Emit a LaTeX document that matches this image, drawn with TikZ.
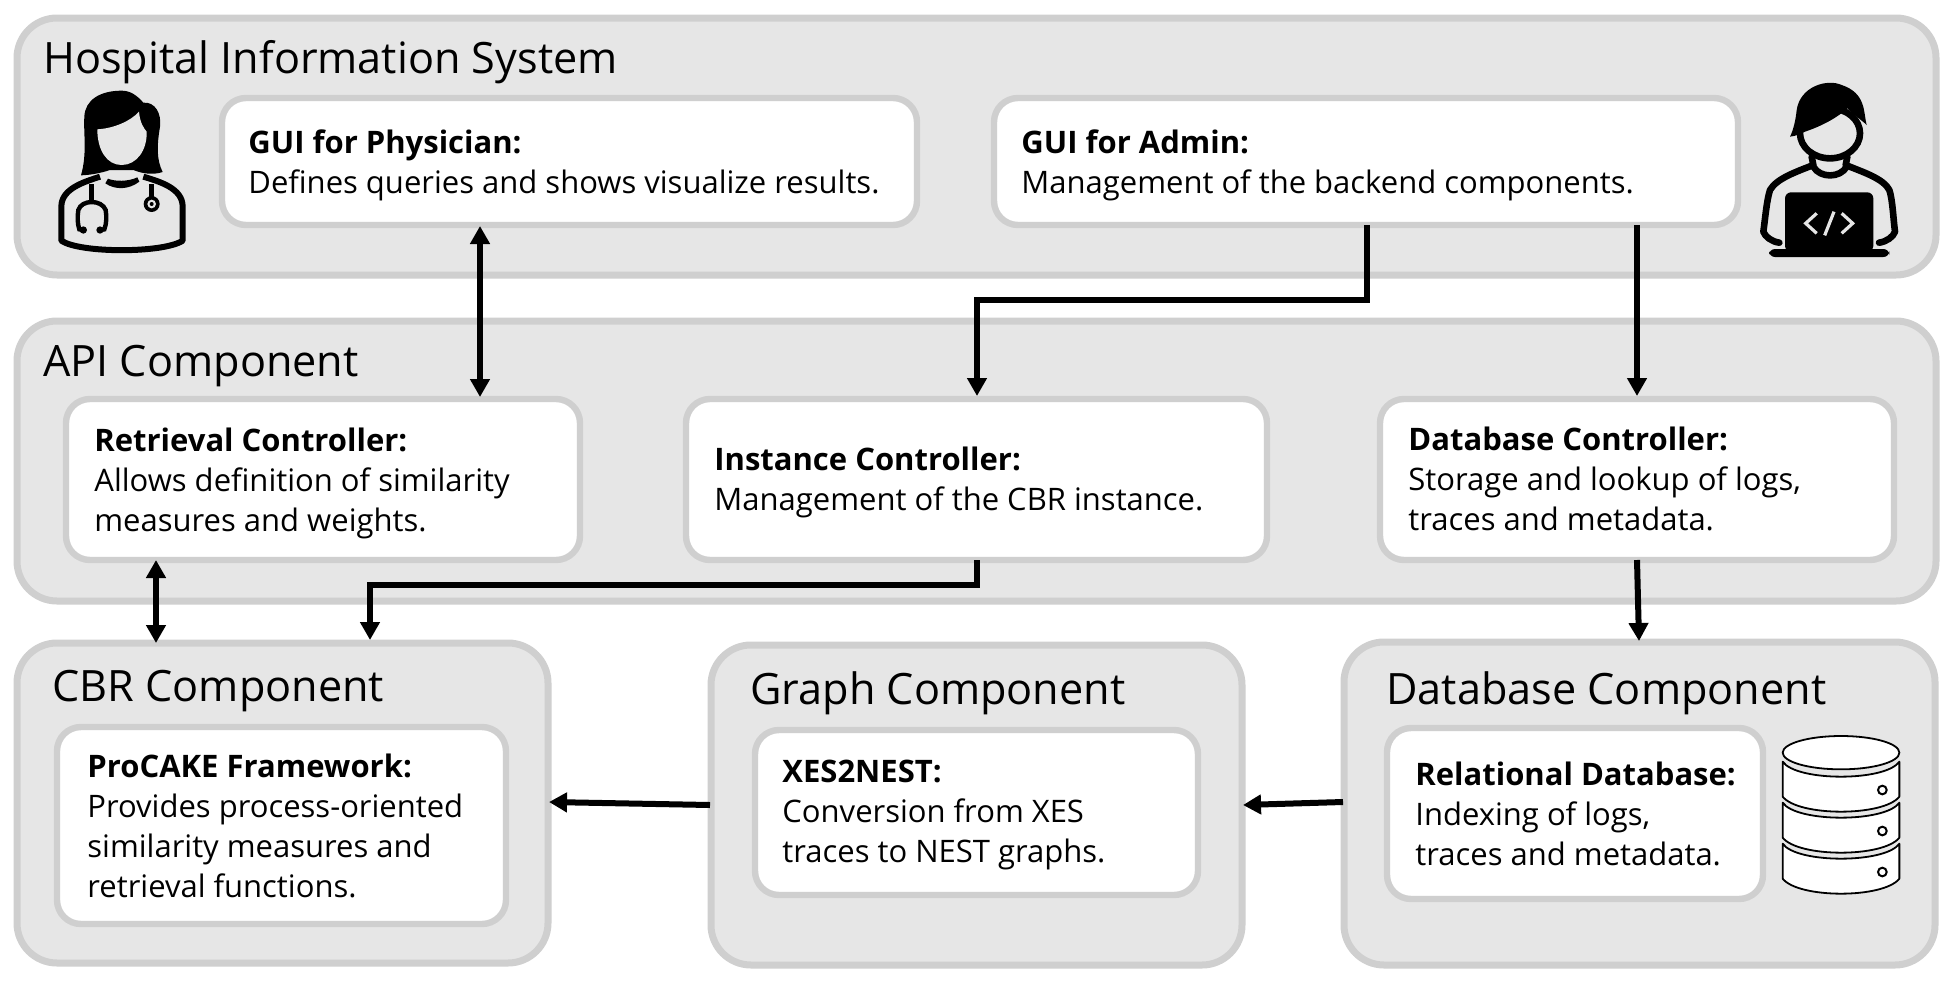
\documentclass[tikz,border=0pt]{standalone}
\usepackage{fontspec}
\setmainfont{Open Sans}
\newfontfamily\headfont{Open Sans}
\usetikzlibrary{arrows.meta,calc}
\definecolor{panelfill}{HTML}{E6E6E6}
\definecolor{panelline}{HTML}{CFCFCF}
\tikzset{
  panel/.style={draw=panelline,fill=panelfill,line width=3.5pt,rounded corners=20pt,inner sep=0pt,outer sep=0pt},
  card/.style={draw=panelline,fill=white,line width=3.2pt,rounded corners=12pt,inner sep=0pt,outer sep=0pt},
  heading/.style={anchor=base west,inner sep=0pt,font=\headfont\fontsize{21.6}{26}\selectfont},
  body/.style={anchor=base west,inner sep=0pt,align=left,font=\fontsize{15.5}{20}\selectfont},
  conn/.style={line width=3pt,-{Triangle[length=9pt,width=9.5pt]},miter limit=10},
  both/.style={line width=3pt,{Triangle[length=9pt,width=9.5pt]}-{Triangle[length=9pt,width=9.5pt]}},
}
\newcommand{\pbox}[6]{% style,name,x1,y1,x2,y2
  \node[#1,minimum width={(#5-#3)*0.5pt},minimum height={(#6-#4)*0.5pt}] (#2) at ({(#3+#5)/2},{(#4+#6)/2}) {};}
\begin{document}
\begin{tikzpicture}[x=0.5pt,y=-0.5pt]
\useasboundingbox (0,0) rectangle (1953,985);
\fill[white] (0,0) rectangle (1953,985);
% panels
\pbox{panel}{his}{17}{18}{1936}{275}
\pbox{panel}{api}{17}{321}{1936}{601}
\pbox{panel}{cbr}{17}{643}{548}{963}
\pbox{panel}{graph}{711}{645}{1242}{965}
\pbox{panel}{dbc}{1344}{642}{1935}{965}
% cards
\pbox{card}{gphys}{222}{98}{917}{225}
\pbox{card}{gadmin}{994}{98}{1738}{225}
\pbox{card}{retr}{66}{399}{580}{560}
\pbox{card}{inst}{686}{399}{1267}{560}
\pbox{card}{dbctl}{1380}{399}{1894}{560}
\pbox{card}{proc}{57}{727}{506}{924}
\pbox{card}{xes}{755}{730}{1198}{895}
\pbox{card}{rel}{1387}{728}{1763}{899}
% headings
\node[heading] (t1) at (43,73) {Hospital Information System};
\node[heading] (t2) at (43,376) {API Component};
\node[heading] (t3) at (52,701) {CBR Component};
\node[heading] (t4) at (750,704) {Graph Component};
\node[heading] (t5) at (1386,704) {Database Component};
% card text (anchored at the baseline of the last line)
\node[body] (b1) at (248,193) {\textbf{GUI for Physician:}\\Defines queries and shows visualize results.};
\node[body] (b2) at (1021,193) {\textbf{GUI for Admin:}\\Management of the backend components.};
\node[body] (b3) at (94,531) {\textbf{Retrieval Controller:}\\Allows definition of similarity\\measures and weights.};
\node[body] (b4) at (714,510) {\textbf{Instance Controller:}\\Management of the CBR instance.};
\node[body] (b5) at (1408,530) {\textbf{Database Controller:}\\Storage and lookup of logs,\\traces and metadata.};
\node[body] (b6) at (87,897) {\textbf{ProCAKE Framework:}\\Provides process-oriented\\similarity measures and\\retrieval functions.};
\node[body] (b7) at (782,862) {\textbf{XES2NEST:}\\Conversion from XES\\traces to NEST graphs.};
\node[body] (b8) at (1415,865) {\textbf{Relational Database:}\\Indexing of logs,\\traces and metadata.};
% connectors
\coordinate (xa) at (480,0);
\coordinate (xb) at (1367,0);
\coordinate (xc) at (977,0);
\coordinate (xd) at (1637,0);
\coordinate (xe) at (156,0);
\coordinate (xf) at (370,0);
\coordinate (ya) at (0,300);
\coordinate (yb) at (0,585);
\coordinate (dba) at (1639,641);
\coordinate (cbrin) at (549,802);
\coordinate (gout) at (710,805);
\coordinate (gin) at (1243,805);
\coordinate (dout) at (1343,802);
\draw[both] (xa |- gphys.south) ++(0,1) -- ($(xa |- retr.north)+(0,-2)$);
\draw[conn] (xb |- gadmin.south) -- (xb |- ya) -- (xc |- ya) -- ($(xc |- inst.north)+(0,-3)$);
\draw[conn] (xd |- gadmin.south) -- ($(xd |- dbctl.north)+(0,-3)$);
\draw[both] (xe |- retr.south) -- (xe |- cbr.north);
\draw[conn] (xc |- inst.south) -- (xc |- yb) -- (xf |- yb) -- ($(xf |- cbr.north)+(0,-3)$);
\draw[conn] (xd |- dbctl.south) -- (dba);
\draw[conn] (gout) -- (cbrin);
\draw[conn] (dout) -- (gin);
% doctor icon
\begin{scope}[x=0.16667pt,y=-0.16667pt]
\fill[black] (365,272) .. controls (300,272) and (255,300) .. (253,350) .. controls (250,400) and (262,460) .. (243,526) .. controls (270,525) and (300,520) .. (330,510) -- (400,510) .. controls (430,522) and (460,525) .. (488,516) .. controls (470,480) and (470,440) .. (480,380) .. controls (485,340) and (465,305) .. (430,308) .. controls (410,285) and (390,272) .. (365,272) -- cycle;
\fill[panelfill] (292,388) .. controls (340,385) and (390,365) .. (417,335) .. controls (420,370) and (432,385) .. (440,395) .. controls (442,450) and (410,495) .. (365,495) .. controls (320,495) and (292,450) .. (292,388) -- cycle;
\draw[line width=3pt,line join=round] (300,530) .. controls (255,545) and (184,565) .. (184,620) -- (184,722) .. controls (240,760) and (490,760) .. (548,722) -- (548,620) .. controls (548,565) and (480,545) .. (430,530);
\fill[black] (324,536) .. controls (345,545) and (385,545) .. (412,532) -- (418,545) .. controls (385,570) and (345,570) .. (316,550) -- cycle;
\draw[line width=2.2pt] (275,553) -- (275,605);
\draw[line width=2.2pt,line cap=round] (247,690) -- (238,688) .. controls (232,670) and (232,650) .. (235,630) .. controls (245,598) and (305,598) .. (317,630) .. controls (320,650) and (320,670) .. (313,688) -- (302,690);
\fill (250,690) circle (11); \fill (300,690) circle (11);
\draw[line width=2.2pt] (455,553) -- (455,590);
\fill (455,612) circle (24);
\fill[panelfill] (455,612) circle (13);
\fill (455,612) circle (6);
\end{scope}
% developer icon
\begin{scope}[shift={(1650,50)},x=0.16667pt,y=-0.16667pt]
\draw[line width=3.3pt] (540,250) ellipse (90 and 75);
\fill (575,105) .. controls (530,85) and (450,110) .. (440,180) .. controls (437,210) and (430,240) .. (420,260) .. controls (440,258) and (452,250) .. (465,245) .. controls (510,230) and (560,205) .. (592,175) .. controls (610,195) and (635,210) .. (650,225) .. controls (640,190) and (650,130) .. (575,105) -- cycle;
\draw[line width=3.3pt,line join=round,line cap=round] (485,320) -- (490,345) .. controls (440,365) and (380,385) .. (360,420) .. controls (350,450) and (345,510) .. (340,545) .. controls (345,560) and (365,575) .. (388,578);
\draw[line width=3.3pt,line join=round,line cap=round] (592,320) -- (587,345) .. controls (635,365) and (700,385) .. (718,420) .. controls (728,450) and (730,510) .. (735,545) .. controls (730,560) and (710,575) .. (687,578);
\draw[line width=3.3pt] (490,350) .. controls (510,385) and (570,385) .. (590,350);
\fill[rounded corners=3pt] (405,427) rectangle (670,605);
\fill[rounded corners=3pt] (357,597) rectangle (718,621);
\draw[panelfill,line width=1.6pt] (500,490) -- (467,520) -- (500,550);
\draw[panelfill,line width=1.6pt] (552,485) -- (524,556);
\draw[panelfill,line width=1.6pt] (575,490) -- (608,520) -- (575,550);
\end{scope}
% database icon
\begin{scope}[shift={(1650,700)},x=0.16667pt,y=-0.16667pt,line width=0.9pt]
\foreach \dy in {246,123,0}{
  \draw[fill=white,line join=round] (398,{185+\dy}) .. controls (440,245+\dy) and (706,245+\dy) .. (748,{185+\dy}) -- (748,{290+\dy}) .. controls (700,350+\dy) and (446,350+\dy) .. (398,{290+\dy}) -- cycle;
  \draw[line width=1pt] (697,{270+\dy}) circle (13);
}
\draw[fill=white] (573,158) ellipse (175 and 50);
\end{scope}
\end{tikzpicture}
\end{document}
